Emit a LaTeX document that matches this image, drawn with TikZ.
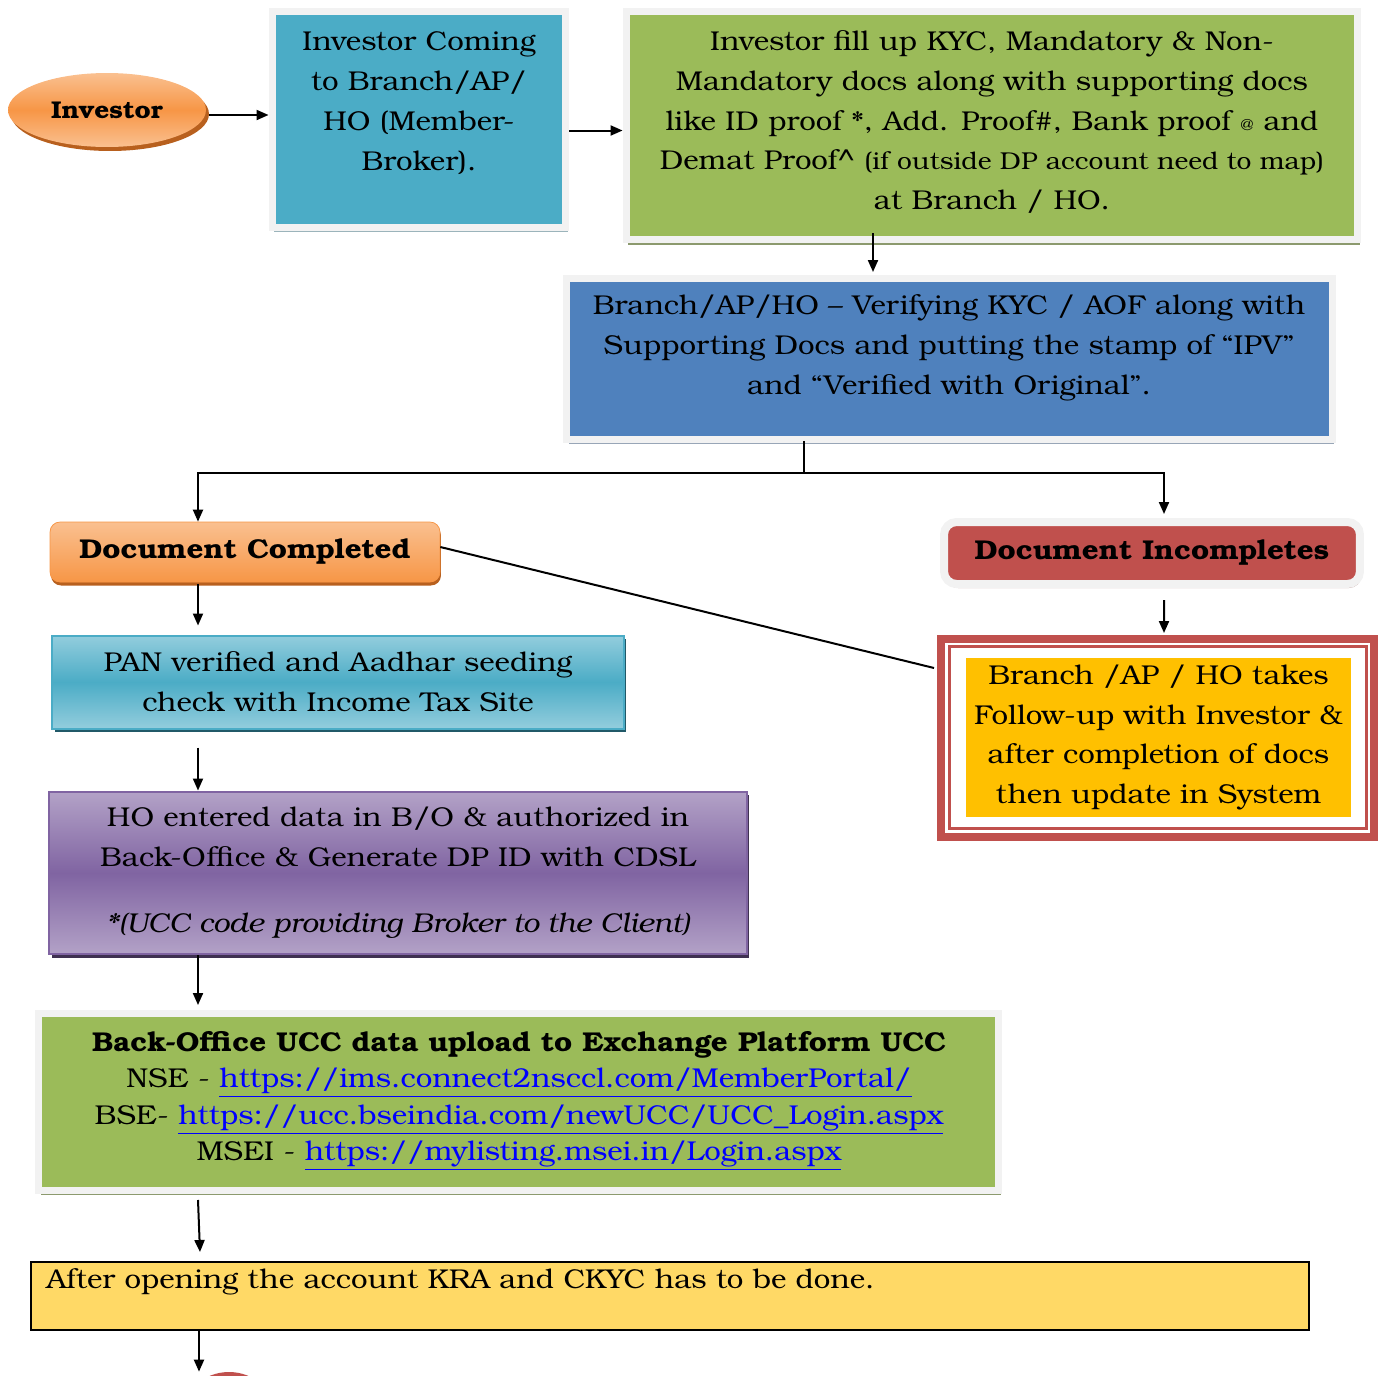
\documentclass[tikz,border=0pt]{standalone}
\usepackage{fontspec}
\setmainfont{texgyrebonum}[Extension=.otf, UprightFont=*-regular, BoldFont=*-bold, ItalicFont=*-italic, BoldItalicFont=*-bolditalic, FakeStretch=1.08]
\usetikzlibrary{shapes.geometric,shadows,calc,arrows.meta}

\definecolor{orangebox}{HTML}{F79646}
\definecolor{orangelight}{HTML}{FAC090}
\definecolor{orangedark}{HTML}{B8601E}
\definecolor{tealbox}{HTML}{4BACC6}
\definecolor{teallight}{HTML}{93CDDD}
\definecolor{tealdark}{HTML}{215968}
\definecolor{greenbox}{HTML}{9BBB59}
\definecolor{bluebox}{HTML}{4F81BD}
\definecolor{redbox}{HTML}{C0504D}
\definecolor{goldbox}{HTML}{FFC000}
\definecolor{purplebox}{HTML}{8064A2}
\definecolor{purplelight}{HTML}{B3A2C7}
\definecolor{purpledark}{HTML}{3F3151}
\definecolor{krabox}{HTML}{FFD966}
\definecolor{framegray}{HTML}{F2F2F2}
\definecolor{linkblue}{HTML}{0000FF}

\newcommand{\boxfont}{\fontsize{15.5}{22.7}\selectfont}
\newcommand{\weblink}[1]{\textcolor{linkblue}{\underline{#1}}}

\tikzset{
    flow/.style={-{Triangle[length=0.24cm,width=0.2cm]}, line width=0.04cm},
    plain/.style={line width=0.04cm},
    framed/.style={draw=framegray, line width=0.14cm},
    boxtext/.style={align=center, font=\boxfont, inner sep=0pt}
}

\begin{document}
\begin{tikzpicture}[x=0.02cm, y=-0.02cm]
    \useasboundingbox (0,0) rectangle (1383,1376);
    \clip (0,0) rectangle (1383,1376);

    % top row
    \node[ellipse, minimum width=3.96cm, minimum height=1.48cm, inner sep=0pt,
          top color=orangelight, bottom color=orangelight, middle color=orangebox,
          drop shadow={shadow xshift=0.06cm, shadow yshift=-0.08cm, fill=orangedark, opacity=1},
          font=\fontsize{13.8}{16}\selectfont\bfseries] (investor) at (107,110) {Investor};
    \node[framed, fill=tealbox, minimum width=5.88cm, minimum height=4.34cm,
          drop shadow={shadow xshift=0.04cm, shadow yshift=-0.08cm, fill=tealdark!45, opacity=1}] (coming) at (419,119.5) {};
    \node[boxtext] (comingtext) at (419,103) {Investor Coming\\to Branch/AP/\\HO (Member-\\Broker).};
    \node[framed, fill=greenbox, minimum width=14.64cm, minimum height=4.58cm,
          drop shadow={shadow xshift=0.04cm, shadow yshift=-0.1cm, fill=gray!55!greenbox, opacity=1}] (kyc) at (992,125.5) {};
    \node[boxtext] (kyctext) at (992,122) {Investor fill up KYC, Mandatory \& Non-\\
        Mandatory docs along with supporting docs\\
        like ID proof *, Add. Proof\#, Bank proof {\small @} and\\
        Demat Proof\textasciicircum{} {\fontsize{13.9}{22.7}\selectfont(if outside DP account need to map)}\\
        at Branch / HO.};

    % verification
    \node[framed, fill=bluebox, minimum width=15.32cm, minimum height=3.22cm,
          drop shadow={shadow xshift=0.04cm, shadow yshift=-0.1cm, fill=gray!60!bluebox!70, opacity=1}] (verify) at (949.5,359) {};
    \node[boxtext] (verifytext) at (949,348) {Branch/AP/HO – Verifying KYC / AOF along with\\
        Supporting Docs and putting the stamp of “IPV”\\
        and “Verified with Original”.};

    % outcome
    \node[rounded corners=0.2cm, draw=orangebox, fill=orangebox, top color=orangelight, bottom color=orangebox,
          minimum width=7.8cm, minimum height=1.2cm,
          drop shadow={shadow xshift=0.02cm, shadow yshift=-0.07cm, fill=orangedark, opacity=1},
          font=\boxfont\bfseries] (doccomp) at (245,552) {Document Completed};
    \node[rounded corners=0.25cm, draw=framegray, line width=0.16cm, fill=redbox,
          minimum width=8.32cm, minimum height=1.24cm,
          drop shadow={shadow xshift=0.03cm, shadow yshift=-0.08cm, fill=redbox!45!gray!60, opacity=1},
          font=\boxfont\bfseries] (docinc) at (1152,553) {Document Incompletes};

    % follow-up for incomplete docs
    \node[draw=redbox, line width=0.16cm, minimum width=8.66cm, minimum height=3.96cm, fill=white] (followframe) at (1157.5,738) {};
    \node[draw=redbox, line width=0.06cm, minimum width=8.36cm, minimum height=3.66cm] (followline) at (1158,737.5) {};
    \node[boxtext, fill=goldbox, minimum width=7.7cm, minimum height=3.18cm] (followup) at (1158.5,737.5)
        {Branch /AP / HO takes\\Follow-up with Investor \&\\after completion of docs\\then update in System};

    % completed docs path
    \node[boxtext, draw=tealbox, line width=0.04cm, top color=teallight, bottom color=teallight, middle color=tealbox,
          minimum width=11.44cm, minimum height=1.86cm,
          drop shadow={shadow xshift=0.05cm, shadow yshift=-0.07cm, fill=tealdark, opacity=1}] (pan) at (338,682)
        {PAN verified and Aadhar seeding\\check with Income Tax Site};
    \node[boxtext, draw=purplebox, line width=0.04cm, top color=purplelight, bottom color=purplelight, middle color=purplebox,
          minimum width=13.96cm, minimum height=3.26cm,
          drop shadow={shadow xshift=0.05cm, shadow yshift=-0.07cm, fill=purpledark, opacity=1}] (purple) at (398,873)
        {HO entered data in B/O \& authorized in\\Back-Office \& Generate DP ID with CDSL\\[0.52cm]\textit{*(UCC code providing Broker to the Client)}};
    \node[framed, fill=greenbox, minimum width=19.21cm, minimum height=3.54cm,
          drop shadow={shadow xshift=0.04cm, shadow yshift=-0.1cm, fill=gray!55!greenbox, opacity=1}] (upload) at (518.75,1102) {};
    \node[boxtext, font=\fontsize{15.5}{20.5}\selectfont] (uploadtext) at (519,1101)
        {\textbf{Back-Office UCC data upload to Exchange Platform UCC}\\
         NSE - \weblink{https://ims.connect2nsccl.com/MemberPortal/}\\
         BSE- \weblink{https://ucc.bseindia.com/newUCC/UCC\_Login.aspx}\\
         MSEI - \weblink{https://mylisting.msei.in/Login.aspx}};
    \node[draw=black, line width=0.04cm, fill=krabox, minimum width=25.56cm, minimum height=1.36cm] (kra) at (670,1296) {};
    \node[font=\boxfont, anchor=west, inner sep=0pt] (kratext) at (46,1282) {After opening the account KRA and CKYC has to be done.};
    \node[ellipse, fill=redbox, minimum width=1.8cm, minimum height=1.6cm] (endmark) at (229,1412) {};

    % connectors
    \draw[flow] ($(investor.east)+(3,5)$) -- ($(coming.west)+(0,-4.5)$);
    \draw[flow] ($(coming.east)+(0,11)$) -- ($(kyc.west)+(0,5)$);
    \draw[flow] ($(kyc.south)+(-119,-10)$) -- ($(verify.north)+(-76.5,-3)$);
    \coordinate (split) at (804,473);
    \draw[plain] ($(verify.south)+(-145.5,-2)$) -- (split);
    \draw[flow] (split) -| ($(doccomp.north)+(-47,0)$);
    \draw[flow] (split) -| ($(docinc.north)+(12,-4)$);
    \draw[plain] ($(doccomp.east)+(0,-5)$) -- ($(followframe.west)+(-3,-70)$);
    \draw[flow] ($(docinc.south)+(12,12)$) -- ($(followframe.north)+(6.5,-2)$);
    \draw[flow] ($(doccomp.south)+(-47,2)$) -- ($(pan.north)+(-140,-9)$);
    \draw[flow] ($(pan.south)+(-140,18)$) -- ($(purple.north)+(-200,0)$);
    \draw[flow] ($(purple.south)+(-200,0)$) -- ($(upload.north)+(-320.75,-5)$);
    \draw[flow] ($(upload.south)+(-320.75,6)$) -- ($(kra.north)+(-470,-9)$);
    \draw[flow] ($(kra.south)+(-471,0)$) -- ($(endmark.north)+(-30,0)$);
\end{tikzpicture}
\end{document}
